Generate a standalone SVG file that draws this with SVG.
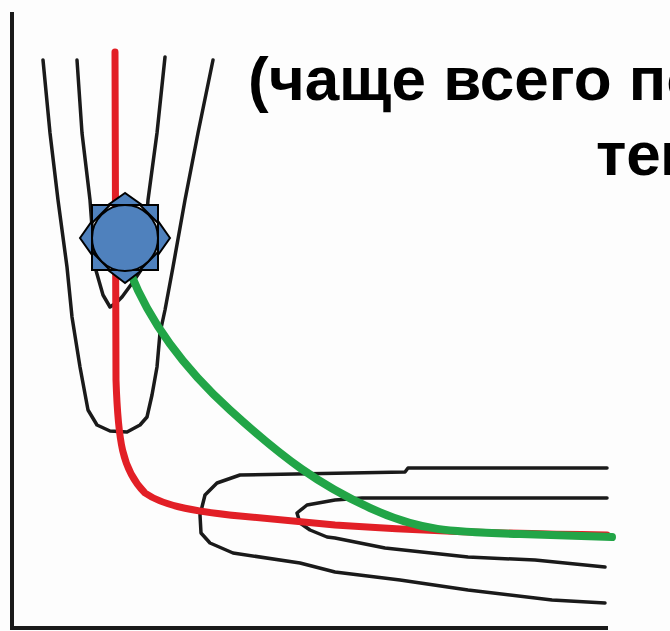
<svg xmlns="http://www.w3.org/2000/svg" width="670" height="631" viewBox="0 0 670 631">
<style>
.ax{fill:none;stroke:#1a1a1a;stroke-width:4;stroke-linecap:square}
.bk{fill:none;stroke:#1a1a1a;stroke-width:3.5;stroke-linejoin:round;stroke-linecap:round}
.red{fill:none;stroke:#e21f26;stroke-width:7;stroke-linecap:round;stroke-linejoin:round}
.grn{fill:none;stroke:#22a547;stroke-width:8;stroke-linecap:round;stroke-linejoin:round}
.sun{fill:#4f81bd;stroke:#000;stroke-width:2;stroke-linejoin:miter}
.t{font-family:"Liberation Sans",Arial,sans-serif;font-weight:bold;font-size:62px;fill:#000}
</style>
<rect width="670" height="631" fill="#fdfdfd"/>
<g id="axes">
<polyline class="ax" points="12,14 12,628 606,628"/>
</g>
<g id="contours">
<polyline class="bk" points="43,60 50,133 58,200 67,267 72,317 80,367 88,410 97,425 110,431 127,432 140,425 147,417 152,395 157,367 160,333 165,310 173,267 185,200 198,133 213,60"/>
<polyline class="bk" points="77,60 82,133 90,200 95,267 103,295 110,307 116,303 122,297 133,282 143,267 148,200 157,133 165,57"/>
<polyline class="bk" points="607,468 408,468 405,472 240,475 217,483 205,495 200,515 201,533 210,543 233,553 300,563 335,572 400,580 468,590 552,600 605,603"/>
<polyline class="bk" points="607,498 362,498 335,500 307,505 297,513 300,523 310,530 327,537 335,538 385,548 468,557 535,560 605,567"/>
</g>
<g id="connectors">
<path class="red" d="M115,52 L116,380 C118,440 122,470 145,493 C165,507 200,512 240,516 L335,525 C420,531 520,534 607,535"/>
<path class="grn" d="M130,272 C145,310 175,360 230,410 S320,485 370,508 S450,532 520,534 L612,537"/>
</g>
<g id="sun">
<polygon class="sun" points="125,193 108,205 142,205"/>
<polygon class="sun" points="125,283 108,270 142,270"/>
<polygon class="sun" points="80,238 92,221 92,255"/>
<polygon class="sun" points="170,238 158,221 158,255"/>
<polygon class="sun" points="92,205 110,205 92,223"/>
<polygon class="sun" points="158,205 140,205 158,223"/>
<polygon class="sun" points="92,270 110,270 92,252"/>
<polygon class="sun" points="158,270 140,270 158,252"/>
<circle class="sun" cx="125" cy="238" r="33"/>
</g>
<g id="label">
<text class="t" x="248" y="100">(чаще всего по</text>
<text class="t" x="596" y="175">тем</text>
</g>
</svg>
